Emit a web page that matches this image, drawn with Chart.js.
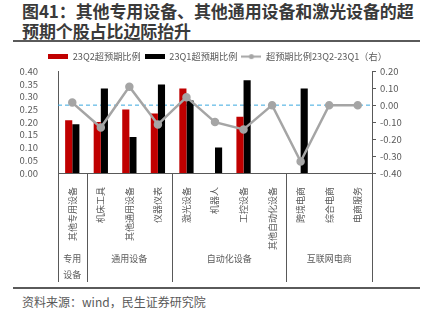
<!DOCTYPE html>
<html>
<head>
<meta charset="utf-8">
<script src="https://cdn.jsdelivr.net/npm/chart.js@4.4.0/dist/chart.umd.min.js"></script>
<style>
body { margin: 0; width: 435px; height: 323px; background: #fff; position: relative; overflow: hidden; font-family: "Noto Sans CJK SC", sans-serif; }
#title { position: absolute; left: 22px; top: 1px; font-size: 17px; font-weight: bold; color: #3a3a3a; line-height: 20px; white-space: nowrap; letter-spacing: -0.1px; }
.rule { position: absolute; left: 13px; width: 407px; height: 2px; background: #5a5a5a; }
#source { position: absolute; left: 22px; top: 293px; font-size: 12px; color: #595959; line-height: 17px; }
#wrap { position: absolute; left: 0; top: 42px; width: 435px; height: 244px; }
</style>
</head>
<body>
<div id="title">图41：其他专用设备、其他通用设备和激光设备的超<br>预期个股占比边际抬升</div>
<div class="rule" style="top:40px"></div>
<div id="wrap"><canvas id="ratio_chart"></canvas></div>
<div class="rule" style="top:287px"></div>
<div id="source">资料来源：wind，民生证券研究院</div>
<script>
const categories = ['其他专用设备', '机床工具', '其他通用设备', '仪器仪表', '激光设备', '机器人', '工控设备', '其他自动化设备', '跨境电商', '综合电商', '电商服务']
const groups = ['专用设备', '通用设备', '自动化设备', '互联网电商']
const group_sizes = [1, 3, 4, 3]
const q2_ratio = [0.207, 0.200, 0.250, 0.234, 0.332, 0, 0.221, 0, 0, 0, 0]
const q1_ratio = [0.192, 0.332, 0.141, 0.348, 0.285, 0.100, 0.364, 0, 0.332, 0, 0]
const diff_ratio = [0.015, -0.132, 0.109, -0.114, 0.047, -0.100, -0.143, 0, -0.332, 0, 0]
const left_ticks = [0, 0.05, 0.10, 0.15, 0.20, 0.25, 0.30, 0.35, 0.40]
const right_ticks = [-0.40, -0.30, -0.20, -0.10, 0, 0.10, 0.20]
const series_names = ['23Q2超预期比例', '23Q1超预期比例', '超预期比例23Q2-23Q1（右）']

const FONT = '"Noto Sans CJK SC", sans-serif'
const GREY = '#595959'

// little legend markers
function boxMark(color) {
    const c = document.createElement('canvas')
    c.width = 20; c.height = 5
    const g = c.getContext('2d')
    g.fillStyle = color
    g.fillRect(0, 0, 20, 5)
    return c
}
function lineMark(color) {
    const c = document.createElement('canvas')
    c.width = 20; c.height = 7
    const g = c.getContext('2d')
    g.strokeStyle = color
    g.lineWidth = 2
    g.beginPath(); g.moveTo(0, 3.5); g.lineTo(20, 3.5); g.stroke()
    g.fillStyle = color
    g.beginPath(); g.arc(10, 3.5, 2.5, 0, Math.PI * 2); g.fill()
    return c
}
const marks = [boxMark('#C00000'), boxMark('#000000'), lineMark('#A5A5A5')]

// dashed zero line of the right axis
const zeroLine = {
    id: 'zeroLine',
    beforeDatasetsDraw(chart) {
        const ctx = chart.ctx, area = chart.chartArea
        const y = chart.scales.y1.getPixelForValue(0)
        ctx.save()
        ctx.strokeStyle = '#3AA8DF'
        ctx.lineWidth = 1
        ctx.setLineDash([4, 3])
        ctx.beginPath(); ctx.moveTo(area.left, y); ctx.lineTo(area.right, y); ctx.stroke()
        ctx.restore()
    }
}

// second level of the x axis: group separators and names
const groupAxis = {
    id: 'groupAxis',
    afterDraw(chart) {
        const ctx = chart.ctx, x = chart.scales.x
        const top = chart.chartArea.bottom
        const bottom = top + 109
        ctx.save()
        ctx.strokeStyle = GREY
        ctx.lineWidth = 1
        ctx.fillStyle = GREY
        ctx.font = '9px ' + FONT
        ctx.textAlign = 'center'
        ctx.textBaseline = 'middle'
        let start = 0
        groups.forEach((name, i) => {
            const l = x.getPixelForValue(start - 0.5)
            const r = x.getPixelForValue(start + group_sizes[i] - 0.5)
            start += group_sizes[i]
            ;[l, r].forEach(px => {
                const xx = Math.round(px) + 0.5
                ctx.beginPath(); ctx.moveTo(xx, top); ctx.lineTo(xx, bottom); ctx.stroke()
            })
            // wrap the name when the group is narrow
            const lines = []
            let cur = ''
            for (const ch of name) {
                if (ctx.measureText(cur + ch).width > r - l - 2 && cur) { lines.push(cur); cur = ch }
                else cur += ch
            }
            lines.push(cur)
            lines.forEach((t, k) => ctx.fillText(t, (l + r) / 2, top + 86 + k * 16))
        })
        ctx.restore()
    }
}

const ratio_chart = document.querySelector('#ratio_chart')

new Chart(ratio_chart, {
    type: 'bar',
    data: {
        labels: categories,
        datasets: [{
            label: series_names[0],
            data: q2_ratio,
            backgroundColor: '#C00000',
            yAxisID: 'y',
            categoryPercentage: 0.5,
            barPercentage: 1,
            order: 2
        }, {
            label: series_names[1],
            data: q1_ratio,
            backgroundColor: '#000000',
            yAxisID: 'y',
            categoryPercentage: 0.5,
            barPercentage: 1,
            order: 2
        }, {
            type: 'line',
            label: series_names[2],
            data: diff_ratio,
            borderColor: '#A5A5A5',
            backgroundColor: '#A5A5A5',
            borderWidth: 2.5,
            pointRadius: 3,
            pointHoverRadius: 3,
            tension: 0,
            yAxisID: 'y1',
            order: 1
        }]
    },
    options: {
        responsive: true,
        maintainAspectRatio: false,
        animation: false,
        layout: { padding: { top: 6, left: 0, right: 0, bottom: 0 } },
        plugins: {
            tooltip: { enabled: false },
            legend: {
                position: 'top',
                labels: {
                    usePointStyle: true,
                    pointStyleWidth: 20,
                    boxHeight: 7,
                    padding: 4,
                    color: GREY,
                    font: { family: FONT, size: 9.2 },
                    generateLabels: chart => {
                        const items = Chart.defaults.plugins.legend.labels.generateLabels(chart)
                        items.forEach(it => { it.pointStyle = marks[it.datasetIndex] })
                        return items.sort((a, b) => a.datasetIndex - b.datasetIndex)
                    }
                }
            }
        },
        scales: {
            x: {
                grid: { display: false },
                border: { display: true, color: GREY, width: 1 },
                ticks: {
                    color: GREY,
                    font: { family: FONT, size: 9 },
                    minRotation: 90,
                    maxRotation: 90,
                    autoSkip: false,
                    padding: 6
                },
                afterFit: scale => { scale.height = 113 }
            },
            y: {
                position: 'left',
                min: 0,
                max: 0.4,
                grid: { display: false },
                border: { display: true, color: GREY, width: 1 },
                afterBuildTicks: scale => { scale.ticks = left_ticks.map(v => ({ value: v })) },
                ticks: {
                    color: GREY,
                    padding: 12,
                    autoSkip: false,
                    font: { family: FONT, size: 9.5 },
                    callback: value => value.toFixed(2)
                },
                afterFit: scale => { scale.width = 58 }
            },
            y1: {
                position: 'right',
                min: -0.4,
                max: 0.2,
                grid: { drawOnChartArea: false, drawTicks: true, tickLength: 4, color: GREY },
                border: { display: true, color: GREY, width: 1 },
                afterBuildTicks: scale => { scale.ticks = right_ticks.map(v => ({ value: v })) },
                ticks: {
                    color: GREY,
                    padding: 4,
                    autoSkip: false,
                    font: { family: FONT, size: 9.5 },
                    callback: value => value.toFixed(2)
                },
                afterFit: scale => { scale.width = 63 }
            }
        }
    },
    plugins: [zeroLine, groupAxis]
})
</script>
</body>
</html>
